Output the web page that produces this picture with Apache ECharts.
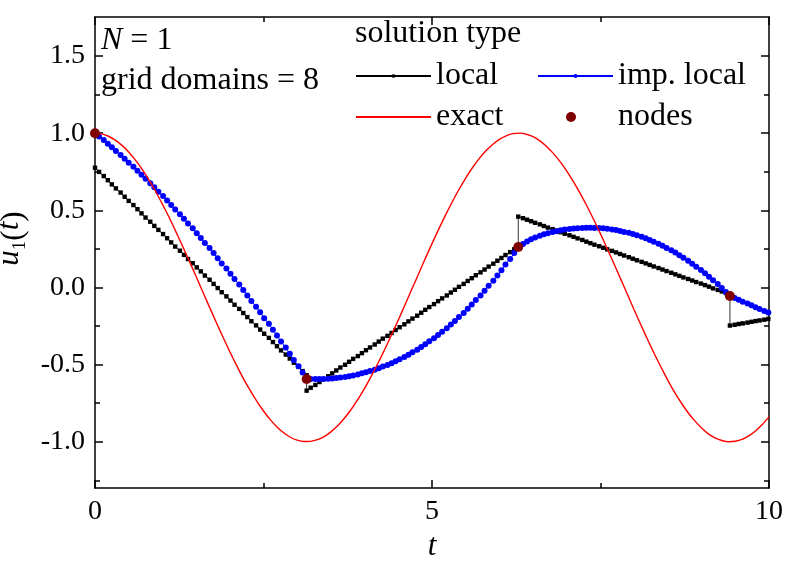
<!DOCTYPE html>
<html lang="en">
<head>
<meta charset="UTF-8">
<title>u1(t) solution types</title>
<script src="https://cdn.jsdelivr.net/npm/echarts@6.0.0/dist/echarts.min.js"></script>
<style>
  html, body { margin: 0; padding: 0; background: #fff; }
  #chart { width: 793px; height: 561px; }
</style>
</head>
<body>
<div id="chart"></div>
<script>
// grid of t values shared by local / imp. local
var tGrid = [
  0.00, 0.06, 0.13, 0.19, 0.25, 0.31, 0.38, 0.44, 0.50, 0.57,
  0.63, 0.69, 0.75, 0.82, 0.88, 0.94, 1.01, 1.07, 1.13, 1.19,
  1.26, 1.32, 1.38, 1.45, 1.51, 1.57, 1.63, 1.70, 1.76, 1.82,
  1.88, 1.95, 2.01, 2.07, 2.14, 2.20, 2.26, 2.32, 2.39, 2.45,
  2.51, 2.58, 2.64, 2.70, 2.76, 2.83, 2.89, 2.95, 3.02, 3.08,
  3.14, 3.20, 3.27, 3.33, 3.39, 3.46, 3.52, 3.58, 3.64, 3.71,
  3.77, 3.83, 3.90, 3.96, 4.02, 4.08, 4.15, 4.21, 4.27, 4.34,
  4.40, 4.46, 4.52, 4.59, 4.65, 4.71, 4.78, 4.84, 4.90, 4.96,
  5.03, 5.09, 5.15, 5.22, 5.28, 5.34, 5.40, 5.47, 5.53, 5.59,
  5.65, 5.72, 5.78, 5.84, 5.91, 5.97, 6.03, 6.09, 6.16, 6.22,
  6.28, 6.35, 6.41, 6.47, 6.53, 6.60, 6.66, 6.72, 6.79, 6.85,
  6.91, 6.97, 7.04, 7.10, 7.16, 7.23, 7.29, 7.35, 7.41, 7.48,
  7.54, 7.60, 7.67, 7.73, 7.79, 7.85, 7.92, 7.98, 8.04, 8.11,
  8.17, 8.23, 8.29, 8.36, 8.42, 8.48, 8.55, 8.61, 8.67, 8.73,
  8.80, 8.86, 8.92, 8.99, 9.05, 9.11, 9.17, 9.24, 9.30, 9.36,
  9.42, 9.49, 9.55, 9.61, 9.68, 9.74, 9.80, 9.86, 9.93, 9.99,
  10.05
];

// local solution (black squares), value at end of each domain
var localU = [
  0.776, 0.749, 0.722, 0.695, 0.668, 0.642, 0.615, 0.588, 0.561, 0.534,
  0.507, 0.480, 0.453, 0.426, 0.399, 0.373, 0.346, 0.319, 0.292, 0.265,
  0.238, 0.211, 0.184, 0.157, 0.130, 0.104, 0.077, 0.050, 0.023, -0.004,
  -0.031, -0.058, -0.085, -0.112, -0.139, -0.166, -0.192, -0.219, -0.246, -0.273,
  -0.300, -0.327, -0.354, -0.381, -0.408, -0.435, -0.461, -0.488, -0.515, -0.542,
  -0.569, -0.650, -0.632, -0.613, -0.594, -0.576, -0.557, -0.538, -0.519, -0.501,
  -0.482, -0.463, -0.445, -0.426, -0.407, -0.389, -0.370, -0.351, -0.332, -0.314,
  -0.295, -0.276, -0.258, -0.239, -0.220, -0.202, -0.183, -0.164, -0.145, -0.127,
  -0.108, -0.089, -0.071, -0.052, -0.033, -0.015, 0.004, 0.023, 0.042, 0.060,
  0.079, 0.098, 0.116, 0.135, 0.154, 0.173, 0.191, 0.210, 0.229, 0.247,
  0.266, 0.449, 0.439, 0.429, 0.419, 0.409, 0.398, 0.388, 0.378, 0.368,
  0.358, 0.348, 0.338, 0.328, 0.318, 0.308, 0.297, 0.287, 0.277, 0.267,
  0.257, 0.247, 0.237, 0.227, 0.217, 0.207, 0.196, 0.186, 0.176, 0.166,
  0.156, 0.146, 0.136, 0.126, 0.116, 0.106, 0.095, 0.085, 0.075, 0.065,
  0.055, 0.045, 0.035, 0.025, 0.015, 0.005, -0.006, -0.016, -0.026, -0.036,
  -0.046, -0.242, -0.237, -0.233, -0.228, -0.223, -0.218, -0.214, -0.209, -0.204,
  -0.199
];
// start of the next domain (jump at the nodes)
var localJumpIdx = [50, 100, 150];
var localJumpU = [-0.669, 0.459, -0.247];

// improved local solution (blue dots)
var impU = [
  1.000, 0.978, 0.955, 0.932, 0.908, 0.884, 0.859, 0.834, 0.809, 0.783,
  0.757, 0.731, 0.704, 0.676, 0.649, 0.621, 0.592, 0.563, 0.534, 0.505,
  0.475, 0.445, 0.414, 0.383, 0.352, 0.320, 0.288, 0.256, 0.223, 0.190,
  0.156, 0.122, 0.088, 0.054, 0.019, -0.016, -0.052, -0.088, -0.125, -0.161,
  -0.199, -0.236, -0.274, -0.312, -0.351, -0.390, -0.430, -0.470, -0.511, -0.551,
  -0.593, -0.594, -0.594, -0.594, -0.593, -0.592, -0.590, -0.587, -0.584, -0.580,
  -0.575, -0.570, -0.564, -0.557, -0.550, -0.542, -0.533, -0.524, -0.513, -0.502,
  -0.491, -0.478, -0.465, -0.451, -0.436, -0.420, -0.404, -0.386, -0.368, -0.349,
  -0.329, -0.308, -0.287, -0.264, -0.241, -0.217, -0.192, -0.165, -0.138, -0.110,
  -0.081, -0.052, -0.021, 0.011, 0.044, 0.078, 0.112, 0.148, 0.185, 0.223,
  0.262, 0.282, 0.298, 0.312, 0.324, 0.335, 0.344, 0.352, 0.359, 0.365,
  0.370, 0.375, 0.379, 0.382, 0.384, 0.386, 0.387, 0.387, 0.386, 0.385,
  0.383, 0.380, 0.376, 0.372, 0.366, 0.360, 0.354, 0.346, 0.338, 0.329,
  0.319, 0.308, 0.296, 0.284, 0.270, 0.256, 0.241, 0.226, 0.209, 0.192,
  0.173, 0.154, 0.134, 0.113, 0.092, 0.069, 0.046, 0.022, -0.003, -0.029,
  -0.056, -0.068, -0.080, -0.092, -0.104, -0.116, -0.128, -0.140, -0.152, -0.163,
  -0.175
];

// exact solution (red)
var exactT = [
  0.0, 0.1, 0.2, 0.3, 0.4, 0.5, 0.6, 0.7, 0.8, 0.9,
  1.0, 1.1, 1.2, 1.3, 1.4, 1.5, 1.6, 1.7, 1.8, 1.9,
  2.0, 2.1, 2.2, 2.3, 2.4, 2.5, 2.6, 2.7, 2.8, 2.9,
  3.0, 3.1, 3.2, 3.3, 3.4, 3.5, 3.6, 3.7, 3.8, 3.9,
  4.0, 4.1, 4.2, 4.3, 4.4, 4.5, 4.6, 4.7, 4.8, 4.9,
  5.0, 5.1, 5.2, 5.3, 5.4, 5.5, 5.6, 5.7, 5.8, 5.9,
  6.0, 6.1, 6.2, 6.3, 6.4, 6.5, 6.6, 6.7, 6.8, 6.9,
  7.0, 7.1, 7.2, 7.3, 7.4, 7.5, 7.6, 7.7, 7.8, 7.9,
  8.0, 8.1, 8.2, 8.3, 8.4, 8.5, 8.6, 8.7, 8.8, 8.9,
  9.0, 9.1, 9.2, 9.3, 9.4, 9.5, 9.6, 9.7, 9.8, 9.9,
  10.0
];
var exactU = [
  1.000, 0.995, 0.980, 0.955, 0.921, 0.878, 0.825, 0.765, 0.697, 0.622,
  0.540, 0.454, 0.362, 0.267, 0.170, 0.071, -0.029, -0.129, -0.227, -0.323,
  -0.416, -0.505, -0.589, -0.666, -0.737, -0.801, -0.857, -0.904, -0.942, -0.971,
  -0.990, -0.999, -0.998, -0.987, -0.967, -0.936, -0.897, -0.848, -0.791, -0.726,
  -0.654, -0.575, -0.490, -0.401, -0.307, -0.211, -0.112, -0.012, 0.087, 0.187,
  0.284, 0.378, 0.469, 0.554, 0.635, 0.709, 0.776, 0.835, 0.886, 0.927,
  0.960, 0.983, 0.997, 1.000, 0.993, 0.977, 0.950, 0.914, 0.869, 0.816,
  0.754, 0.684, 0.608, 0.526, 0.439, 0.347, 0.251, 0.153, 0.054, -0.046,
  -0.146, -0.243, -0.339, -0.431, -0.519, -0.602, -0.680, -0.749, -0.812, -0.865,
  -0.911, -0.949, -0.975, -0.992, -1.000, -0.997, -0.985, -0.962, -0.930, -0.889,
  -0.839
];

// nodes
var nodeT = [0.0, 3.14, 6.28, 9.42];
var nodeU = [1.000, -0.593, 0.262, -0.056];

// ticks
var xMajor = [0, 5, 10];
var xMinor = [2.5, 7.5];
var yMajor = [-1.0, -0.5, 0.0, 0.5, 1.0, 1.5];
var yMinor = [-1.25, -0.75, -0.25, 0.25, 0.75, 1.25];

var FONT = 'Liberation Serif';

var localData = [];
for (var i = 0; i < tGrid.length; i++) {
  localData.push([tGrid[i], localU[i]]);
  var j = localJumpIdx.indexOf(i);
  if (j >= 0) localData.push([tGrid[i], localJumpU[j]]);
}
var impData = tGrid.map(function (t, i) { return [t, impU[i]]; });
var exactData = exactT.map(function (t, i) { return [t, exactU[i]]; });
var nodeData = nodeT.map(function (t, i) { return [t, nodeU[i]]; });

function axis(kind, pos, ticks, len, main) {
  return {
    type: 'value',
    position: pos,
    min: kind === 'x' ? 0 : -1.3,
    max: kind === 'x' ? 10 : 1.753,
    axisLine: { show: main, onZero: false, lineStyle: { color: '#000', width: 1.5 } },
    axisTick: { show: true, inside: true, length: len, customValues: ticks,
      lineStyle: { color: '#000', width: 1.5 } },
    axisLabel: { show: false },
    splitLine: { show: false }
  };
}

var xAxes = [
  axis('x', 'bottom', xMajor, 8, true),
  axis('x', 'bottom', xMinor, 5, false),
  axis('x', 'top', xMajor, 8, true),
  axis('x', 'top', xMinor, 5, false)
];
xAxes[0].axisLabel = { show: true, customValues: xMajor, margin: 10,
  fontFamily: FONT, fontSize: 28, color: '#000' };
xAxes[0].name = 't';
xAxes[0].nameLocation = 'middle';
xAxes[0].nameGap = 41;
xAxes[0].nameTextStyle = { fontFamily: FONT, fontSize: 31, fontStyle: 'italic', color: '#000' };

var yAxes = [
  axis('y', 'left', yMajor, 8, true),
  axis('y', 'left', yMinor, 5, false),
  axis('y', 'right', yMajor, 8, true),
  axis('y', 'right', yMinor, 5, false)
];
yAxes[0].axisLabel = { show: true, customValues: yMajor, margin: 10,
  fontFamily: FONT, fontSize: 28, color: '#000',
  formatter: function (v) { return v.toFixed(1); } };
yAxes[0].name = '{i|u}{s|1}({i|t})';
yAxes[0].nameLocation = 'middle';
yAxes[0].nameRotate = 90;
yAxes[0].nameGap = 62;
yAxes[0].nameTextStyle = {
  fontFamily: FONT, fontSize: 31, color: '#000', padding: [0, 0, 0, 28],
  rich: {
    i: { fontFamily: FONT, fontSize: 31, fontStyle: 'italic', color: '#000',
      lineHeight: 31, verticalAlign: 'bottom', padding: [0, 0, 4, 0] },
    s: { fontFamily: FONT, fontSize: 19, color: '#000', lineHeight: 20, verticalAlign: 'bottom' }
  }
};

function leg(name, left, top, w, h, extra) {
  var l = {
    data: [name], left: left, top: top, orient: 'horizontal', padding: 0,
    itemWidth: w, itemHeight: h, itemGap: 0, selectedMode: false,
    textStyle: { fontFamily: FONT, fontSize: 32, color: '#000' }
  };
  for (var k in extra) l[k] = extra[k];
  return l;
}

var titleStyle = { fontFamily: FONT, fontSize: 32, fontWeight: 'normal', color: '#000', lineHeight: 32 };

var chart = echarts.init(document.getElementById('chart'), null, { renderer: 'canvas' });
chart.setOption({
  animation: false,
  backgroundColor: '#fff',
  textStyle: { fontFamily: FONT },
  grid: { left: 95, right: 24, top: 17, bottom: 73, outerBoundsMode: 'none', containLabel: false },
  xAxis: xAxes,
  yAxis: yAxes,
  title: [
    { text: '{i|N} = 1', left: 101, top: 25, padding: 0,
      textStyle: Object.assign({}, titleStyle, {
        rich: { i: { fontFamily: FONT, fontSize: 32, fontStyle: 'italic', color: '#000', lineHeight: 32 } } }) },
    { text: 'grid domains = 8', left: 101, top: 65, padding: 0, textStyle: titleStyle },
    { text: 'solution type', left: 355, top: 18, padding: 0, textStyle: titleStyle }
  ],
  legend: [
    leg('local', 355, 60, 75, 4),
    leg('imp. local', 537, 60, 75, 5),
    leg('exact', 355, 101, 75, 4, { itemStyle: { opacity: 0 } }),
    leg('nodes', 566, 101, 84, 10)
  ],
  series: [
    {
      name: 'local', type: 'line', data: localData,
      symbol: 'rect', symbolSize: 4.4, showSymbol: true, showAllSymbol: true,
      itemStyle: { color: '#000' },
      lineStyle: { color: '#000', width: 0.8 },
      z: 2
    },
    {
      name: 'imp. local', type: 'line', data: impData,
      symbol: 'circle', symbolSize: 6, showSymbol: true, showAllSymbol: true,
      itemStyle: { color: '#0000ff' },
      lineStyle: { color: '#0000ff', width: 1 },
      z: 3
    },
    {
      name: 'exact', type: 'line', data: exactData, smooth: 0.2,
      symbol: 'circle', showSymbol: false,
      itemStyle: { color: '#ff0000' },
      lineStyle: { color: '#ff0000', width: 1.4 },
      z: 4
    },
    {
      name: 'nodes', type: 'scatter', data: nodeData,
      symbol: 'circle', symbolSize: 10,
      itemStyle: { color: '#800000', opacity: 1 },
      z: 5
    }
  ]
});
</script>
</body>
</html>
